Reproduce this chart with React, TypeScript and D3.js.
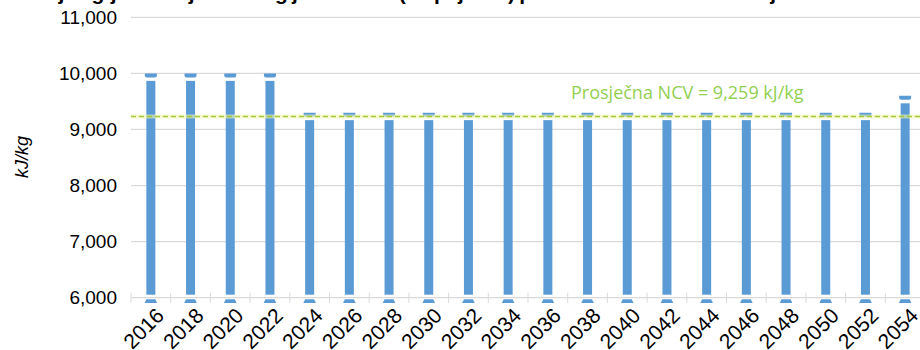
import React, { useEffect, useRef } from 'react';
import * as d3 from 'd3';

const years = ['2016', '2018', '2020', '2022', '2024', '2026', '2028', '2030', '2032', '2034',
  '2036', '2038', '2040', '2042', '2044', '2046', '2048', '2050', '2052', '2054'];
const ncv = [10000, 10000, 10000, 10000, 9300, 9300, 9300, 9300, 9300, 9300,
  9300, 9300, 9300, 9300, 9300, 9300, 9300, 9300, 9300, 9600];
const yTicks = [6000, 7000, 8000, 9000, 10000, 11000];
const avgLine = 9230; // where the dashed line sits in the picture
const avgLabel = 'Prosječna NCV = 9,259 kJ/kg';
const yTitle = 'kJ/kg';
const title = 'Donja ogrjevna vrijednost ugljena – NCV (stupnjevito) prema referentnom scenariju';

const App = () => {
  const chartRef = useRef<SVGSVGElement>(null);

  useEffect(() => {
    drawChart();
  }, []);

  const drawChart = () => {
    const width = 920;
    const height = 350;
    const left = 131;
    const step = 39.7;
    const blue = '#5B9BD5';

    const svg = d3.select(chartRef.current)
      .attr('width', width)
      .attr('height', height)
      .style('font-family', '"Liberation Sans", Arial, sans-serif');
    svg.selectAll('*').remove();

    const x = d3.scaleBand().domain(years).range([left, left + step * years.length]).padding(0);
    const y = d3.scaleLinear().domain([6000, 11000]).range([297.7, 17.3]);
    const y0 = y(6000);

    // title, cut off by the top edge
    svg.append('text')
      .attr('x', 20)
      .attr('y', 0)
      .attr('font-size', 21)
      .attr('font-weight', 'bold')
      .attr('textLength', 768)
      .attr('lengthAdjust', 'spacing')
      .text(title);

    // gridlines
    svg.append('g')
      .selectAll('line')
      .data(yTicks)
      .join('line')
      .attr('x1', left)
      .attr('x2', width)
      .attr('y1', d => y(d))
      .attr('y2', d => y(d))
      .attr('stroke', '#d9d9d9')
      .attr('stroke-width', 1.2);

    // category ticks
    svg.append('g')
      .selectAll('line')
      .data(years)
      .join('line')
      .attr('x1', d => x(d)!)
      .attr('x2', d => x(d)!)
      .attr('y1', y0 - 5)
      .attr('y2', y0 + 5)
      .attr('stroke', '#d9d9d9');

    // y labels
    svg.append('g')
      .selectAll('text')
      .data(yTicks)
      .join('text')
      .attr('x', 117)
      .attr('y', d => y(d))
      .attr('dy', '0.35em')
      .attr('text-anchor', 'end')
      .attr('font-size', 19)
      .attr('fill', '#000')
      .text(d => d3.format(',')(d));

    svg.append('text')
      .attr('transform', 'translate(28,157) rotate(-90)')
      .attr('text-anchor', 'middle')
      .attr('font-size', 18)
      .attr('font-style', 'italic')
      .text(yTitle);

    // bars
    const bars = svg.append('g')
      .selectAll('g')
      .data(years.map((yr, i) => ({ yr, v: ncv[i] })))
      .join('g')
      .attr('transform', d => `translate(${x(d.yr)! + x.bandwidth() / 2},0)`);

    bars.append('rect')
      .attr('x', -4.5)
      .attr('width', 9)
      .attr('y', d => y(d.v) + 7.5)
      .attr('height', d => y0 - 3 - (y(d.v) + 7.5))
      .attr('fill', blue);

    // top cap
    bars.append('path')
      .attr('d', d => {
        const t = y(d.v);
        return `M-6,${t} H6 V${t + 2} Q6,${t + 4} 4,${t + 4} H-4 Q-6,${t + 4} -6,${t + 2} Z`;
      })
      .attr('fill', blue);

    // base cap
    bars.append('path')
      .attr('d', `M-4.5,${y0 + 1.5} H4.5 L6.3,${y0 + 5.3} H-6.3 Z`)
      .attr('fill', blue);

    // x labels
    svg.append('g')
      .selectAll('text')
      .data(years)
      .join('text')
      .attr('transform', d => `translate(${x(d)! + x.bandwidth() / 2 + 4},${y0 + 9}) rotate(-45)`)
      .attr('text-anchor', 'end')
      .attr('dy', '0.7em')
      .attr('font-size', 21)
      .text(d => d);

    // average line
    svg.append('line')
      .attr('x1', left)
      .attr('x2', width)
      .attr('y1', y(avgLine))
      .attr('y2', y(avgLine))
      .attr('stroke', '#f2f7b0')
      .attr('stroke-width', 4)
      .attr('opacity', 0.6);
    svg.append('line')
      .attr('x1', left)
      .attr('x2', width)
      .attr('y1', y(avgLine))
      .attr('y2', y(avgLine))
      .attr('stroke', '#a3c93a')
      .attr('stroke-width', 1.6)
      .attr('stroke-dasharray', '5,3');

    svg.append('text')
      .attr('x', 571)
      .attr('y', 99)
      .attr('font-family', '"Open Sans", sans-serif')
      .attr('font-size', 18)
      .attr('fill', '#92D050')
      .text(avgLabel);
  };

  return <svg ref={chartRef} style={{ position: 'absolute', left: 0, top: 0 }}></svg>;
};

export default App;
